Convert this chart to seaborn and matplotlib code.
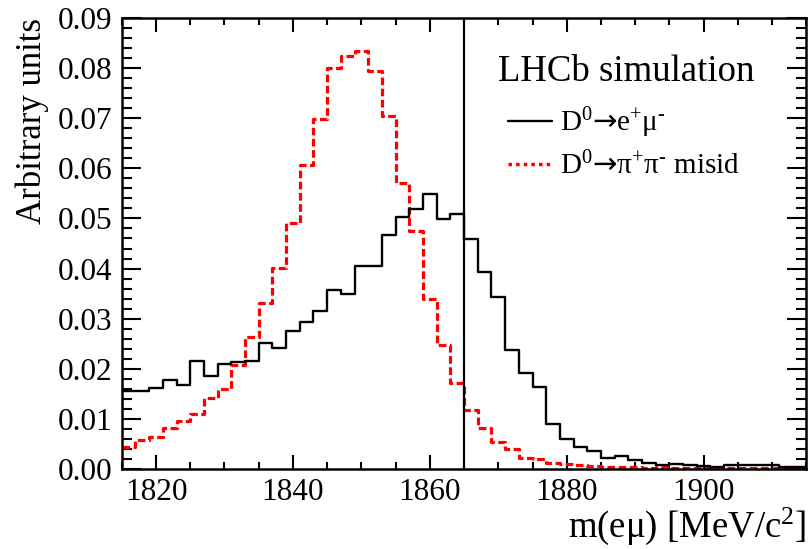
import matplotlib
matplotlib.use("Agg")
import matplotlib.pyplot as plt
import pandas as pd
import seaborn as sns
from matplotlib.lines import Line2D
from matplotlib.ticker import MultipleLocator, FormatStrFormatter

# 2 MeV bins from 1815 to 1915 MeV/c^2
bin_edges = list(range(1815, 1917, 2))
bin_centres = [e + 1 for e in bin_edges[:-1]]

# D0 -> e+ mu- signal shape (arbitrary units)
emu_signal = [
    0.0157, 0.0157, 0.0162, 0.0178, 0.0169, 0.0215, 0.0187, 0.0210, 0.0214, 0.0215,
    0.0251, 0.0242, 0.0275, 0.0293, 0.0315, 0.0357, 0.0349, 0.0405, 0.0405, 0.0467,
    0.0503, 0.0518, 0.0549, 0.0499, 0.0509, 0.0458, 0.0393, 0.0343, 0.0238, 0.0192,
    0.0165, 0.0091, 0.0060, 0.0045, 0.0037, 0.0022, 0.0026, 0.0019, 0.0012, 0.0009,
    0.0011, 0.0008, 0.0006, 0.0005, 0.0008, 0.0009, 0.0008, 0.0008, 0.0005, 0.0005,
]

# D0 -> pi+ pi- misidentified as e mu
pipi_misid = [
    0.0044, 0.0058, 0.0065, 0.0083, 0.0097, 0.0111, 0.0142, 0.0161, 0.0208, 0.0263,
    0.0331, 0.0402, 0.0490, 0.0607, 0.0698, 0.0800, 0.0823, 0.0833, 0.0793, 0.0703,
    0.0571, 0.0475, 0.0339, 0.0248, 0.0172, 0.0119, 0.0083, 0.0055, 0.0041, 0.0022,
    0.0020, 0.0013, 0.0010, 0.0008, 0.0007, 0.0005, 0.0004, 0.0004, 0.0003, 0.0004,
    0.0003, 0.0003, 0.0003, 0.0002, 0.0003, 0.0002, 0.0002, 0.0002, 0.0002, 0.0002,
]

cut_value = 1865

df = pd.DataFrame({"mass": bin_centres, "signal": emu_signal, "misid": pipi_misid})

sns.set_style("ticks")
plt.rcParams["font.family"] = ["Liberation Serif", "DejaVu Serif"]
plt.rcParams["font.sans-serif"] = ["DejaVu Sans"]
plt.rcParams["mathtext.fontset"] = "custom"
plt.rcParams["mathtext.rm"] = "Liberation Serif"
plt.rcParams["mathtext.it"] = "Liberation Serif:italic"
plt.rcParams["mathtext.sf"] = "DejaVu Sans"
plt.rcParams["mathtext.default"] = "rm"
plt.rcParams["text.color"] = "black"
plt.rcParams["axes.labelcolor"] = "black"

fig = plt.figure(figsize=(8.12, 5.49), dpi=100)
ax = fig.add_axes([0.150, 0.145, 0.843, 0.823])

sns.histplot(data=df, x="mass", weights="misid", bins=bin_edges, element="step",
             fill=False, color="#ff0000", linewidth=2.3, linestyle=(0, (2.4, 1.1)), ax=ax)
sns.histplot(data=df, x="mass", weights="signal", bins=bin_edges, element="step",
             fill=False, color="black", linewidth=1.7, ax=ax)
ax.axvline(cut_value, color="black", linewidth=1.6)

ax.set_xlim(1815, 1915)
ax.set_ylim(0, 0.09)
ax.xaxis.set_major_locator(MultipleLocator(20))
ax.xaxis.set_minor_locator(MultipleLocator(5))
ax.yaxis.set_major_locator(MultipleLocator(0.01))
ax.yaxis.set_minor_locator(MultipleLocator(0.002))
ax.yaxis.set_major_formatter(FormatStrFormatter("%.2f"))

ax.tick_params(axis="both", which="both", direction="in", top=True, right=True,
               width=1.5, labelsize=22.5, colors="black")
ax.tick_params(axis="x", which="major", length=10, pad=6)
ax.tick_params(axis="x", which="minor", length=5)
ax.tick_params(axis="y", which="major", length=14, pad=7)
ax.tick_params(axis="y", which="minor", length=7)
for spine in ax.spines.values():
    spine.set_linewidth(1.8)
    spine.set_color("black")

ax.set_xlabel("m(eμ) [MeV/c$^{2}$]", fontsize=26.5, loc="right", labelpad=-1)
ax.set_ylabel("Arbitrary units", fontsize=25, loc="top", labelpad=6)

ax.text(0.549, 0.86, "LHCb simulation", transform=ax.transAxes, fontsize=26.5)
handles = [
    Line2D([], [], color="black", linewidth=1.7),
    Line2D([], [], color="#ff0000", linewidth=2.5, linestyle=(0, (1, 1.2))),
]
labels = ["D$^{0}\\mathsf{→}$e$^{+}$μ$^{‐}$", "D$^{0}\\mathsf{→}$π$^{+}$π$^{‐}$ misid"]
ax.legend(handles, labels, loc="upper left", bbox_to_anchor=(0.564, 0.805), frameon=False,
          fontsize=21, handlelength=1.5, handletextpad=0.3, labelspacing=0.4,
          borderaxespad=0, borderpad=0)

fig.savefig("out.png", dpi=100)
